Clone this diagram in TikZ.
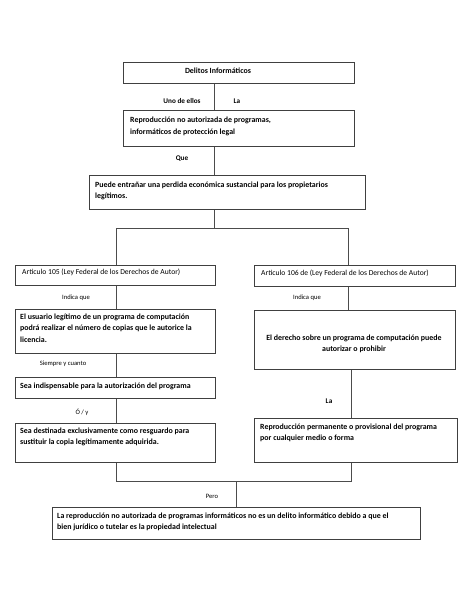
\documentclass[tikz,border=0pt]{standalone}
\usepackage{fontspec}
\setmainfont{Carlito}
\begin{document}
\begin{tikzpicture}[x=1pt,y=-1pt,
  box/.style={draw=black!75,line width=0.6pt,inner sep=0pt,anchor=north west},
  txt/.style={inner sep=0pt,anchor=north west,align=left,font=\fontsize{7.9}{11.5}\selectfont\bfseries},
  rtxt/.style={inner sep=0pt,anchor=north west,align=left,font=\fontsize{7.6}{11.5}\selectfont},
  ctxt/.style={inner sep=0pt,anchor=north,align=center,font=\fontsize{7.9}{11.5}\selectfont\bfseries},
  lbl/.style={inner sep=0pt,font=\fontsize{6.6}{8}\selectfont},
  blbl/.style={inner sep=0pt,font=\fontsize{7.2}{8}\selectfont\bfseries},
  conn/.style={draw=black!70,line width=0.6pt}]
\useasboundingbox[fill=white] (0,0) rectangle (474,613);
% boxes
\node[box,minimum width=231pt,minimum height=21pt] (b1) at (123,62) {};
\node[box,minimum width=231pt,minimum height=36pt] (b2) at (123,110) {};
\node[box,minimum width=276pt,minimum height=34pt] (b3) at (89,175) {};
\node[box,minimum width=200pt,minimum height=20pt] (l1) at (15,265) {};
\node[box,minimum width=201pt,minimum height=21pt] (r1) at (254,265) {};
\node[box,minimum width=200pt,minimum height=44pt] (l2) at (15,309) {};
\node[box,minimum width=200pt,minimum height=21pt] (l3) at (15,377) {};
\node[box,minimum width=200pt,minimum height=39pt] (l4) at (15,423) {};
\node[box,minimum width=201pt,minimum height=59pt] (r2) at (254,310) {};
\node[box,minimum width=203pt,minimum height=44pt] (r3) at (254,418) {};
\node[box,minimum width=368pt,minimum height=32pt] (fb) at (52,507) {};
% texts
\node[ctxt] (t1) at (218,67.5) {Delitos Informáticos};
\node[txt] (t2) at (130,117) {Reproducción no autorizada de programas,\\informáticos de protección legal};
\node[txt] (t3) at (95,181.5) {Puede entrañar una perdida económica sustancial para los propietarios\\legítimos.};
\node[rtxt] (tl1) at (22,269) {Articulo 105 (Ley Federal de los Derechos de Autor)};
\node[rtxt] (tr1) at (261,269.5) {Articulo 106 de (Ley Federal de los Derechos de Autor)};
\node[txt] (tl2) at (20,313.5) {El usuario legítimo de un programa de computación\\podrá realizar el número de copias que le autorice la\\licencia.};
\node[txt] (tl3) at (20,382.5) {Sea indispensable para la autorización del programa};
\node[txt] (tl4) at (20,427.5) {Sea destinada exclusivamente como resguardo para\\sustituir la copia legítimamente adquirida.};
\node[ctxt] (tr2) at (354,334.5) {El derecho sobre un programa de computación puede\\autorizar o prohibir};
\node[txt] (tr3) at (260,423.5) {Reproducción permanente o provisional del programa\\por cualquier medio o forma};
\node[txt] (tf) at (57,512.5) {La reproducción no autorizada de programas informáticos no es un delito informático debido a que el\\bien jurídico o tutelar es la propiedad intelectual};
% labels
\node[blbl] (a1) at (182,101) {Uno de ellos};
\node[blbl] (a2) at (237,101) {La};
\node[blbl] (a3) at (182,159) {Que};
\node[lbl] (a4) at (76,298) {Indica que};
\node[lbl] (a5) at (307,298) {Indica que};
\node[lbl] (a6) at (63,364) {Siempre y cuanto};
\node[lbl] (a7) at (82,412) {Ó / y};
\node[blbl] (a8) at (329,401) {La};
\node[lbl] (a9) at (212,496) {Pero};
% connector coordinates
\coordinate (spine) at (214,0);
\coordinate (lx) at (116,0);
\coordinate (rx) at (348,0);
\coordinate (rx2) at (351,0);
\coordinate (fx) at (236,0);
\coordinate (split) at (214,228);
\coordinate (merge) at (0,481);
% connectors
\draw[conn] (b1.south -| spine) -- (b2.north -| spine);
\draw[conn] (b2.south -| spine) -- (b3.north -| spine);
\draw[conn] (b3.south -| spine) -- (split);
\draw[conn] (l1.north -| lx) -- (split -| lx) -- (split -| rx) -- (r1.north -| rx);
\draw[conn] (l1.south -| lx) -- (l2.north -| lx);
\draw[conn] (l2.south -| lx) -- (l3.north -| lx);
\draw[conn] (l3.south -| lx) -- (l4.north -| lx);
\draw[conn] (r1.south -| rx) -- (r2.north -| rx);
\draw[conn] (r2.south -| rx2) -- (r3.north -| rx2);
\draw[conn] (l4.south -| lx) -- (merge -| lx) -- (merge -| rx2) -- (r3.south -| rx2);
\draw[conn] (merge -| fx) -- (fb.north -| fx);
\end{tikzpicture}
\end{document}
